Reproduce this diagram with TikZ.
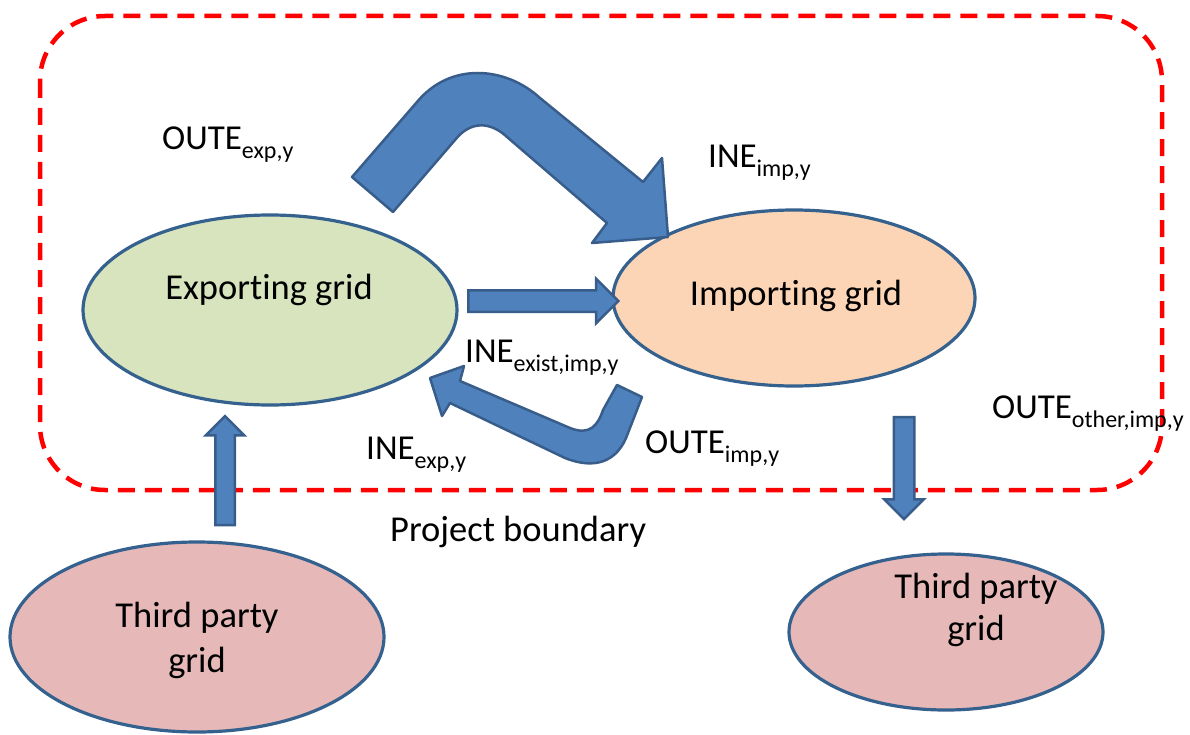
\documentclass[tikz,border=0pt]{standalone}
\usepackage{fontspec}
\setmainfont{Carlito}[Ligatures=NoCommon]
\usetikzlibrary{shapes.geometric,shapes.arrows}
\definecolor{arrfill}{HTML}{4F81BD}
\definecolor{arrline}{HTML}{385D8A}
\definecolor{ellline}{HTML}{35618F}
\definecolor{gfill}{HTML}{D7E4BD}
\definecolor{ofill}{HTML}{FBD5B5}
\definecolor{pfill}{HTML}{E6B9B8}
\newcommand\lab[2]{#1\raisebox{-9pt}{\fontsize{24}{24}\selectfont #2}}
\begin{document}
\begin{tikzpicture}[x=1pt,y=-1pt,
  gridshape/.style={ellipse, draw=ellline, line width=3.2pt, inner sep=0pt},
  blockarrow/.style={single arrow, fill=arrfill, draw=arrline, line width=2.5pt,
     inner xsep=0pt, single arrow tip angle=90},
  curvedarrow/.style={fill=arrfill, draw=arrline, line width=2.5pt, line join=round},
  txt/.style={font=\fontsize{36.5}{44}\selectfont, inner sep=0pt, align=center},
  lbl/.style={font=\fontsize{35}{44}\selectfont, inner sep=0pt, anchor=base west},
  boundary/.style={draw=red, line width=4.5pt, dash pattern=on 17pt off 10pt, rounded corners=65pt}
]
\useasboundingbox (0,0) rectangle (1190,735);

% project boundary
\draw[boundary] (40,16) rectangle (1162,490);

% grids
\node[gridshape, fill=gfill, minimum width=374pt, minimum height=190pt] (exp) at (270,310) {};
\node[gridshape, fill=ofill, minimum width=362pt, minimum height=176pt] (imp) at (794,298) {};
\node[gridshape, fill=pfill, minimum width=374pt, minimum height=190pt] (tpl) at (197,637) {};
\node[gridshape, fill=pfill, minimum width=314pt, minimum height=156pt] (tpr) at (946,632) {};

\node[txt, anchor=base] (expt) at (269,299) {Exporting grid};
\node[txt, anchor=base] (impt) at (796,305) {Importing grid};
\node[txt, anchor=base] (tplt) at (197,627) {Third party};
\node[txt, anchor=base] (tplg) at (197,672) {grid};
\node[txt, anchor=base] (tprt) at (976,598) {Third party};
\node[txt, anchor=base] (tprg) at (976,640) {grid};

% straight block arrows
\node[blockarrow, minimum height=150pt, inner ysep=9.5pt, single arrow head extend=11.5pt] (a1) at (538,301) {};
\node[blockarrow, minimum height=109pt, inner ysep=8.5pt, single arrow head extend=9.5pt, rotate=90] (a2) at (225,475.5) {};
\node[blockarrow, minimum height=102pt, inner ysep=9pt, single arrow head extend=9.5pt, rotate=-90] (a3) at (904,463) {};

% big curved arrow (export -> import)
\draw[curvedarrow] (352,177) -- (417,102)
   .. controls (450,62) and (505,66) .. (540,98)
   -- (643,182) -- (662,158) -- (668,237) -- (592,243) -- (607,223)
   -- (507,137)
   .. controls (490,121) and (470,121) .. (455,140)
   -- (393,212) -- cycle;

% lower curved arrow (import -> export)
\draw[curvedarrow] (430,378) -- (464,366) -- (460,381) -- (570,428)
   .. controls (590,436) and (598,425) .. (603,410)
   -- (617,385) -- (642,397) -- (628,433)
   .. controls (618,462) and (595,470) .. (565,458)
   -- (450,403) -- (442,416) -- cycle;

% labels
\node[lbl] (l1) at (162,150) {\lab{OUTE}{exp,y}};
\node[lbl] (l2) at (708,168) {\lab{INE}{imp,y}};
\node[lbl] (l3) at (465,362) {\lab{INE}{exist,imp,y}};
\node[lbl] (l4) at (366,459) {\lab{INE}{exp,y}};
\node[lbl] (l5) at (645,453) {\lab{OUTE}{imp,y}};
\node[lbl] (l6) at (992,418) {\lab{OUTE}{other,imp,y}};
\node[txt, anchor=base west] (l7) at (390,541) {Project boundary};
\end{tikzpicture}
\end{document}
